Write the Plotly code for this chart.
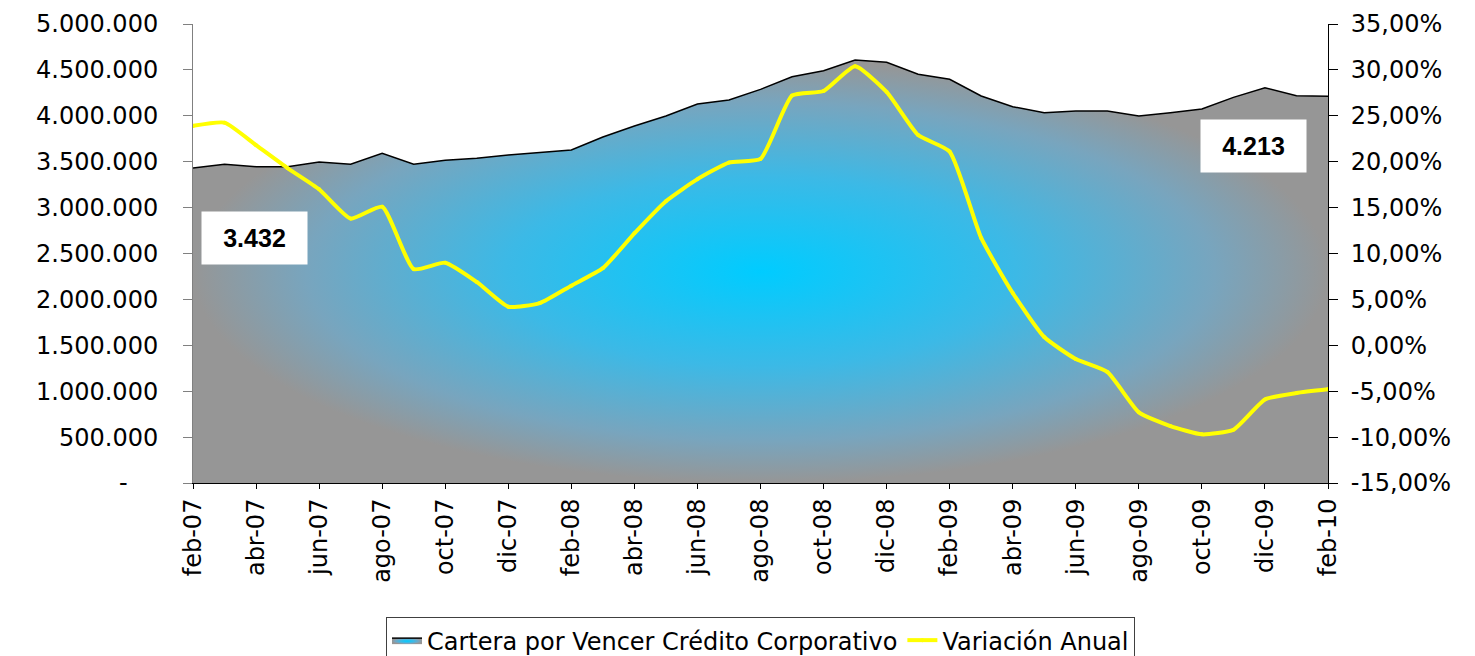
import plotly.graph_objects as go

months = ["feb-07","mar-07","abr-07","may-07","jun-07","jul-07","ago-07","sep-07","oct-07","nov-07","dic-07",
          "ene-08","feb-08","mar-08","abr-08","may-08","jun-08","jul-08","ago-08","sep-08","oct-08","nov-08","dic-08",
          "ene-09","feb-09","mar-09","abr-09","may-09","jun-09","jul-09","ago-09","sep-09","oct-09","nov-09","dic-09",
          "ene-10","feb-10"]

cartera = [3432000, 3472000, 3446000, 3446000, 3497000, 3472000, 3592000, 3472000, 3515000, 3537000, 3573000,
           3602000, 3627000, 3769000, 3889000, 3998000, 4129000, 4172000, 4288000, 4426000, 4491000, 4608000, 4583000,
           4452000, 4398000, 4216000, 4099000, 4034000, 4052000, 4052000, 3998000, 4034000, 4074000, 4201000, 4306000,
           4219000, 4213000]

variacion = [23.9, 24.25, 21.8, 19.3, 17.0, 13.8, 15.1, 8.3, 9.0, 6.9, 4.2,
             4.6, 6.5, 8.4, 12.2, 15.7, 18.1, 19.9, 20.3, 27.2, 27.7, 30.4, 27.6,
             22.9, 21.1, 11.7, 5.7, 0.9, -1.5, -2.9, -7.3, -8.8, -9.7, -9.2, -5.9,
             -5.2, -4.8]

left_ticks = [0, 500000, 1000000, 1500000, 2000000, 2500000, 3000000, 3500000, 4000000, 4500000, 5000000]
left_text = ["-\u00a0\u00a0\u00a0\u00a0", "500.000", "1.000.000", "1.500.000", "2.000.000", "2.500.000", "3.000.000",
             "3.500.000", "4.000.000", "4.500.000", "5.000.000"]
right_ticks = [-15, -10, -5, 0, 5, 10, 15, 20, 25, 30, 35]
right_text = ["-15,00%", "-10,00%", "-5,00%", "0,00%", "5,00%", "10,00%", "15,00%", "20,00%",
              "25,00%", "30,00%", "35,00%"]

idx = list(range(len(months)))

fig = go.Figure()
fig.add_trace(go.Scatter(
    x=idx, y=cartera, name="Cartera por Vencer Crédito Corporativo",
    mode="lines", line=dict(color="black", width=1.5),
    fill="tozeroy",
    fillgradient=dict(type="radial",
                      colorscale=[[0, "rgb(0,204,255)"], [0.45, "rgb(60,185,230)"],
                                  [0.8, "rgb(120,165,190)"], [1, "rgb(150,150,150)"]]),
    yaxis="y",
))
fig.add_trace(go.Scatter(
    x=idx, y=variacion, name="Variación Anual",
    mode="lines+markers", line=dict(color="#FFFF00", width=4, shape="spline", smoothing=0.5),
    marker=dict(color="#FFFF00", size=4),
    yaxis="y2",
))

font_axis = dict(family="DejaVu Sans", size=24, color="black")

fig.update_layout(
    width=1475, height=656,
    margin=dict(l=193, r=147, t=24, b=173, autoexpand=False),
    paper_bgcolor="white", plot_bgcolor="white",
    showlegend=True,
    legend=dict(orientation="h", x=0.5, xanchor="center", y=-0.292, yanchor="top",
                bordercolor="#404040", borderwidth=1, bgcolor="white",
                font=dict(family="DejaVu Sans", size=24, color="black")),
    xaxis=dict(range=[0, 36], tickmode="array", tickvals=idx[::2], ticktext=months[::2],
               tickangle=-90, tickfont=font_axis, showgrid=False, zeroline=False, automargin=False,
               showline=True, linecolor="black", linewidth=1, ticks="outside", ticklen=5, tickcolor="black"),
    yaxis=dict(range=[0, 5000000], tickmode="array", tickvals=left_ticks, ticktext=left_text,
               tickfont=font_axis, showgrid=False, zeroline=False, showline=True, linecolor="#808080",
               automargin=False, ticks="outside", ticklen=9, tickcolor="#808080", ticklabelstandoff=20),
    yaxis2=dict(range=[-15, 35], tickmode="array", tickvals=right_ticks, ticktext=right_text,
                tickfont=font_axis, overlaying="y", side="right", showgrid=False, zeroline=False,
                automargin=False, showline=True, linecolor="black", ticks="outside", ticklen=9,
                tickcolor="black", ticklabelstandoff=8),
)

ann_font = dict(family="Liberation Sans", size=25, color="black")
fig.add_annotation(x=1.95, y=2669000, xref="x", yref="y", text="<b>3.432</b>", showarrow=False,
                   bgcolor="white", width=101, height=48, borderpad=2, font=ann_font)
fig.add_annotation(x=33.63, y=3666000, xref="x", yref="y", text="<b>4.213</b>", showarrow=False,
                   bgcolor="white", width=101, height=48, borderpad=2, font=ann_font)

fig.write_html("out.html", config={"displayModeBar": False},
               post_script="document.body.style.margin='0';")
